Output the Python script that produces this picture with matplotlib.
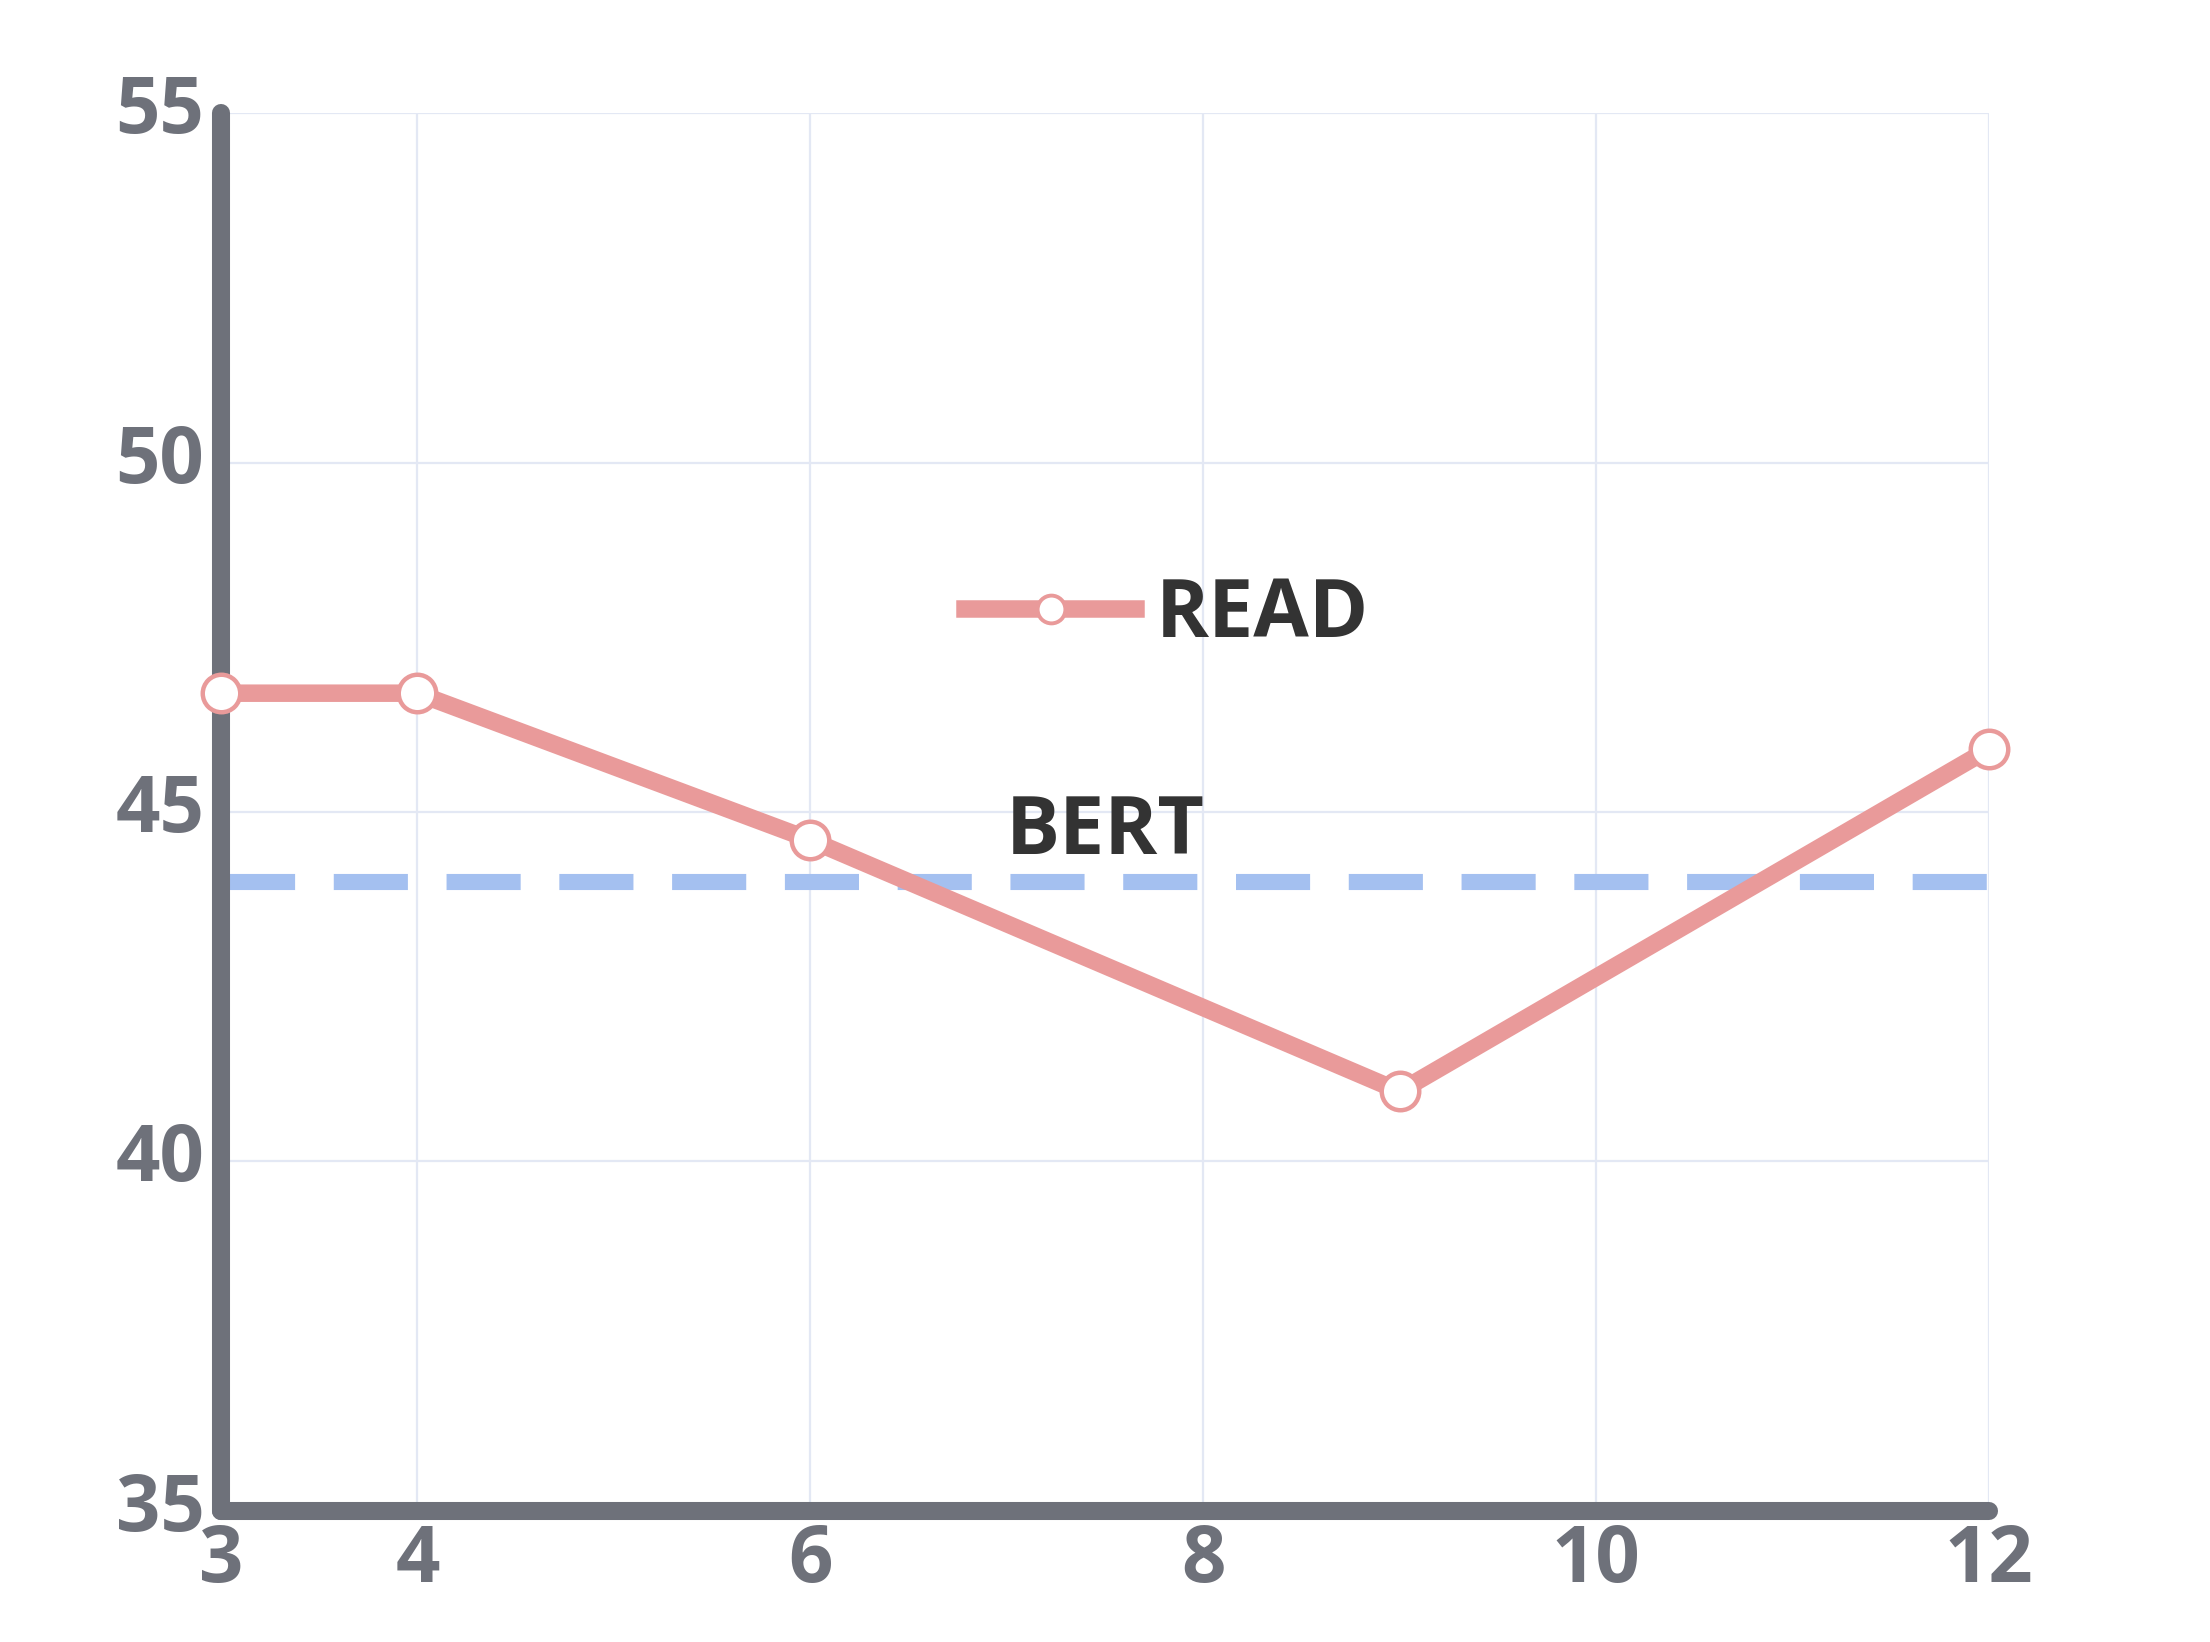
import matplotlib.pyplot as plt
from matplotlib.lines import Line2D
from matplotlib.transforms import ScaledTranslation

# Data
layers = [3, 4, 6, 9, 12]
read_scores = [46.7, 46.7, 44.6, 41.0, 45.9]
bert_score = 44.0

x_ticks = [3, 4, 6, 8, 10, 12]
y_ticks = [35, 40, 45, 50, 55]

plt.rcParams['font.family'] = ['Open Sans', 'DejaVu Sans']

axis_grey = '#6e717a'
read_color = '#e99a9a'
bert_color = '#a4c0f0'

fig = plt.figure(figsize=(11.05, 8.21), dpi=200)
ax = fig.add_axes([0.100, 0.080, 0.800, 0.851])

# BERT baseline
ax.plot([layers[0], layers[-1]], [bert_score, bert_score], color=bert_color,
        linewidth=5.8, linestyle=(0, (4.6, 2.4)), zorder=2)

# READ line
ax.plot(layers, read_scores, color=read_color, linewidth=6.3, marker='o',
        markersize=13.5, markerfacecolor='white', markeredgecolor=read_color,
        markeredgewidth=1.6, zorder=3, clip_on=False)

ax.text(7.5, 44.7, 'BERT', fontsize=29, fontweight='bold', color='#333333',
        ha='center', va='center', zorder=4)

handle = Line2D([], [], color=read_color, linewidth=6.3, marker='o',
                markersize=10, markerfacecolor='white',
                markeredgecolor=read_color, markeredgewidth=1.4)
leg = ax.legend([handle], ['READ'], loc='center left',
                bbox_to_anchor=(0.421, 0.640), frameon=False, borderpad=0,
                borderaxespad=0, handlelength=2.12, handletextpad=0.25,
                prop={'size': 29, 'weight': 'bold'})
for t in leg.get_texts():
    t.set_color('#333333')

ax.set_xlim(3, 12)
ax.set_ylim(35, 55)
ax.set_xticks(x_ticks)
ax.set_yticks(y_ticks)

ax.grid(True, color='#e3e8f4', linewidth=0.8, zorder=0)
ax.set_axisbelow(True)

for side in ['top', 'right']:
    ax.spines[side].set_visible(False)
for side in ['left', 'bottom']:
    ax.spines[side].set_color(axis_grey)
    ax.spines[side].set_linewidth(6.5)
    ax.spines[side].set_capstyle('round')
    ax.spines[side].set_zorder(2.5)

ax.tick_params(axis='both', length=0, labelsize=28, labelcolor=axis_grey)
ax.tick_params(axis='x', pad=4)
ax.tick_params(axis='y', pad=6)
for lbl in ax.get_xticklabels() + ax.get_yticklabels():
    lbl.set_fontweight('bold')

# nudge y tick labels up a little
shift = ScaledTranslation(0, 3.6 / 72, fig.dpi_scale_trans)
for lbl in ax.get_yticklabels():
    lbl.set_transform(lbl.get_transform() + shift)

fig.savefig('out.png', dpi=200)
